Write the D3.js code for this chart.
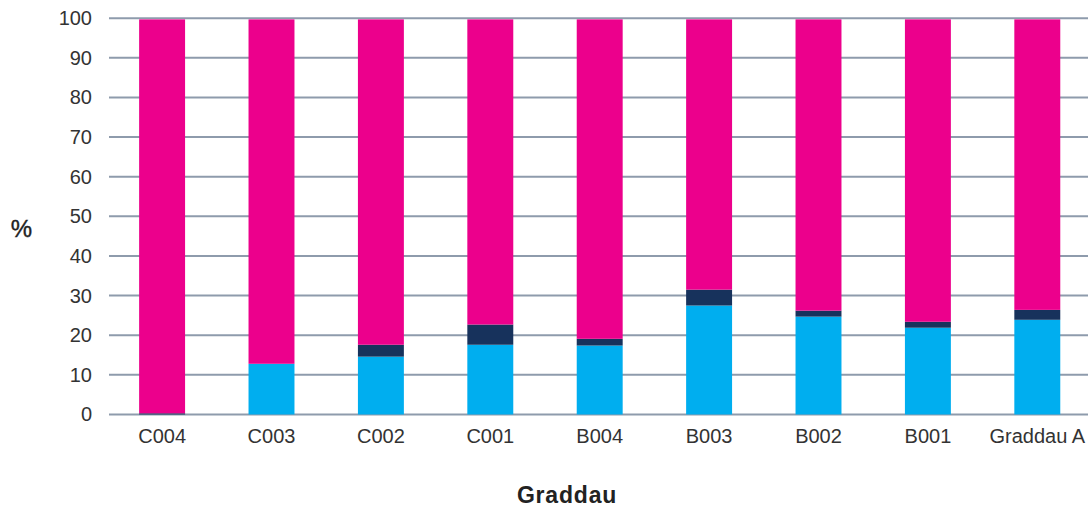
<!DOCTYPE html>
<html>
<head>
<meta charset="utf-8">
<script src="https://cdn.jsdelivr.net/npm/d3@7"></script>
<style>
  html, body { margin: 0; padding: 0; background: #fff; }
  svg { display: block; font-family: "Liberation Sans", Arial, Helvetica, sans-serif; }
</style>
</head>
<body>
<svg id="chart" width="1088" height="509"></svg>
<script>
// Categories along the x axis
const categories = ["C004", "C003", "C002", "C001", "B004", "B003", "B002", "B001", "Graddau A"];
// Stacked shares (%), bottom to top
const blueValues = [0, 12.8, 14.6, 17.6, 17.4, 27.5, 24.7, 21.9, 23.9];
const navyValues = [0.3, 0, 3.0, 5.1, 1.7, 4.0, 1.5, 1.5, 2.5];
const pinkValues = [99.4, 86.9, 82.1, 77.0, 80.6, 68.2, 73.5, 76.3, 73.3];
const yTicks = [0, 10, 20, 30, 40, 50, 60, 70, 80, 90, 100];

const seriesKeys = ["blue", "navy", "pink"];
const colors = { blue: "#00AEEF", navy: "#17325C", pink: "#EC008C" };

const rows = categories.map((c, i) => ({
  cat: c, blue: blueValues[i], navy: navyValues[i], pink: pinkValues[i]
}));

const svg = d3.select("#chart");

const x = d3.scaleBand()
  .domain(categories)
  .range([107.4, 1092])
  .paddingInner(0.58)
  .paddingOuter(0.29);

const y = d3.scaleLinear().domain([0, 100]).range([414.5, 18.2]);

// Horizontal grid lines
svg.append("g")
  .selectAll("line")
  .data(yTicks)
  .join("line")
  .attr("x1", 109)
  .attr("x2", 1088)
  .attr("y1", d => y(d))
  .attr("y2", d => y(d))
  .attr("stroke", "#8e9bac")
  .attr("stroke-width", 2);

// Stacked bars
const stack = d3.stack().keys(seriesKeys)(rows);
svg.append("g")
  .selectAll("g")
  .data(stack)
  .join("g")
  .attr("fill", d => colors[d.key])
  .selectAll("rect")
  .data(d => d)
  .join("rect")
  .attr("x", d => x(d.data.cat))
  .attr("width", x.bandwidth())
  .attr("y", d => y(d[1]))
  .attr("height", d => Math.max(0, y(d[0]) - y(d[1])));

// Y axis tick labels
const yAxis = d3.axisLeft(y).tickValues(yTicks).tickSize(0).tickPadding(0);
const gy = svg.append("g").attr("transform", "translate(92,0)").call(yAxis);
gy.select(".domain").remove();
gy.selectAll("text")
  .attr("font-size", 20)
  .attr("fill", "#333")
  .attr("font-family", "Liberation Sans, Arial, sans-serif");

// X axis category labels
const xAxis = d3.axisBottom(x).tickSize(0).tickPadding(0);
const gx = svg.append("g").attr("transform", "translate(0,428.5)").call(xAxis);
gx.select(".domain").remove();
gx.selectAll("text")
  .attr("font-size", 20)
  .attr("fill", "#333")
  .attr("font-family", "Liberation Sans, Arial, sans-serif");

// Axis titles
svg.append("text")
  .attr("x", 21.5)
  .attr("y", 237)
  .attr("text-anchor", "middle")
  .attr("font-size", 24)
  .attr("stroke", "#222")
  .attr("stroke-width", 0.4)
  .attr("fill", "#222")
  .text("%");

svg.append("text")
  .attr("x", 567)
  .attr("y", 503)
  .attr("text-anchor", "middle")
  .attr("font-size", 23)
  .attr("font-weight", 700)
  .attr("letter-spacing", 0.8)
  .attr("fill", "#222")
  .text("Graddau");
</script>
</body>
</html>
